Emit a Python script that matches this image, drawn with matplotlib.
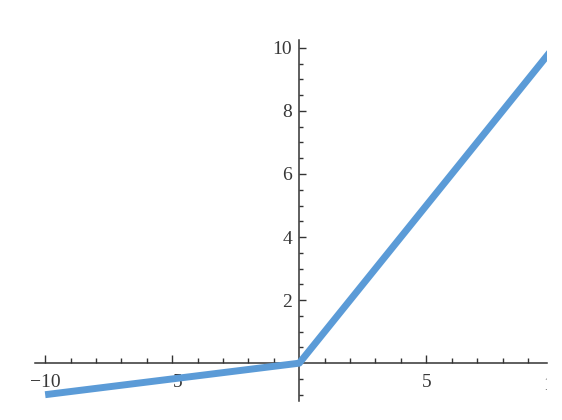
import numpy as np
import matplotlib
matplotlib.use("Agg")
import matplotlib.pyplot as plt
import matplotlib.ticker as mticker

# ── Data: leaky ReLU, slope 0.1 for x < 0 ─────────────────────────────────────
x_pts = [-10, 0, 10]
y_pts = [-1, 0, 10]

x_major = [-10, -5, 5]
x_minor = [-9, -8, -7, -6, -4, -3, -2, -1, 1, 2, 3, 4, 6, 7, 8, 9]
y_major = [2, 4, 6, 8, 10]
y_minor = [-1, -0.5, 0.5, 1, 1.5, 2.5, 3, 3.5, 4.5, 5, 5.5, 6.5, 7, 7.5,
           8.5, 9, 9.5]

LINE = "#5b9bd7"
AXIS = "#333333"
TEXT = "#383838"

plt.rcParams["font.family"] = ["Liberation Serif", "DejaVu Serif"]

fig = plt.figure(figsize=(5.62, 4.2), dpi=100)
ax = fig.add_axes([35 / 562, 19 / 420, (547 - 35) / 562, (401 - 40) / 420])

ax.plot(x_pts, y_pts, color=LINE, linewidth=5.0, solid_capstyle="butt",
        zorder=3)

ax.set_xlim(-10.4, 9.75)
ax.set_ylim(-1.2, 10.25)

# Mathematica-style axes through the origin
for side in ("top", "right"):
    ax.spines[side].set_visible(False)
ax.spines["bottom"].set_position(("data", 0))
ax.spines["left"].set_position(("data", 0))
for side in ("bottom", "left"):
    ax.spines[side].set_color(AXIS)
    ax.spines[side].set_linewidth(1.1)

ax.xaxis.set_major_locator(mticker.FixedLocator(x_major))
ax.xaxis.set_minor_locator(mticker.FixedLocator(x_minor))
ax.yaxis.set_major_locator(mticker.FixedLocator(y_major))
ax.yaxis.set_minor_locator(mticker.FixedLocator(y_minor))
ax.set_xticklabels(["\u221210", "\u22125", "5"])
ax.set_yticklabels([str(v) for v in y_major])

ax.tick_params(axis="both", which="both", direction="in", color=AXIS,
               labelcolor=TEXT, labelsize=14)
ax.tick_params(axis="x", which="major", length=6, width=1.0, pad=8)
ax.tick_params(axis="x", which="minor", length=3.5, width=1.0)
ax.tick_params(axis="y", which="major", length=5, width=1.0, pad=5)
ax.tick_params(axis="y", which="minor", length=3, width=1.0)

# the "10" label sits past the right edge and is cut off in the original
ax.text(10, -0.45, "10", ha="center", va="top", fontsize=14, color=TEXT,
        clip_on=True)

fig.savefig("out.png", dpi=100)
plt.close(fig)
